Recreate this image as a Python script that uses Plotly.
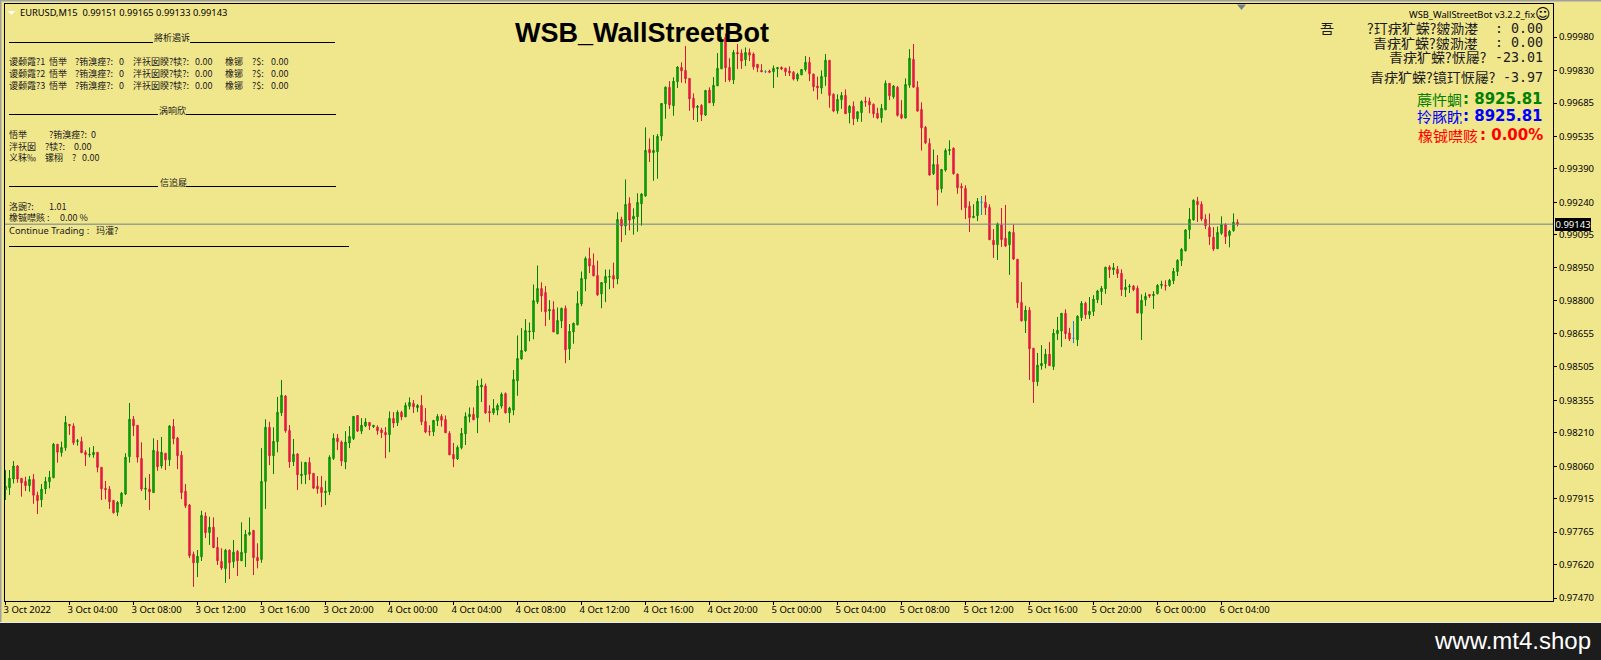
import plotly.graph_objects as go

# prices in points (1e-5), bars
open_pts = [
    97955,97964,98003,98061,98006,97992,97973,98001,97930,97910,
    97958,97991,98009,98158,98121,98143,98247,98240,98171,98171,
    98122,98110,98112,98122,98055,97961,97957,97907,97854,97892,
    97936,98103,98270,98243,98095,97957,97957,97942,98126,98061,
    98118,98089,98238,98186,98109,97948,97886,97666,97628,97655,
    97837,97763,97787,97697,97634,97602,97684,97633,97679,97637,
    97673,97755,97773,97652,97643,97992,98234,98107,98170,98299,
    98374,98220,98080,98115,98018,98022,98077,98028,97970,97965,
    97942,97946,98095,98185,98168,98079,98164,98184,98287,98217,
    98240,98256,98237,98235,98222,98211,98201,98274,98255,98301,
    98281,98328,98341,98322,98332,98260,98216,98214,98263,98283,
    98269,98207,98113,98093,98143,98205,98281,98292,98277,98415,
    98419,98305,98299,98311,98329,98385,98299,98311,98442,98540,
    98576,98661,98661,98795,98855,98837,98755,98761,98652,98710,
    98766,98585,98661,98693,98786,98898,98989,98958,98913,98831,
    98880,98906,98913,98898,99164,99135,99236,99166,99176,99234,
    99269,99477,99463,99467,99537,99682,99755,99673,99780,99844,
    99831,99795,99706,99665,99674,99631,99743,99686,99762,99838,
    99978,99844,99789,99911,99908,99879,99911,99904,99858,99831,
    99825,99828,99825,99838,99844,99840,99828,99822,99792,99811,
    99835,99867,99814,99761,99752,99803,99876,99724,99650,99700,
    99719,99642,99670,99615,99642,99692,99692,99679,99639,99619,
    99655,99773,99713,99755,99634,99618,99765,99880,99755,99656,
    99576,99504,99369,99410,99302,99385,99472,99483,99366,99312,
    99303,99223,99172,99181,99241,99241,99218,99071,99051,99139,
    99080,99051,99106,98986,98793,98711,98758,98588,98438,98510,
    98519,98561,98506,98653,98665,98744,98656,98632,98626,98725,
    98789,98738,98752,98805,98841,98854,98951,98939,98941,98923,
    98850,98862,98865,98856,98744,98805,98828,98823,98832,98869,
    98869,98869,98890,98931,98980,99024,99118,99162,99245,99232,
    99165,99129,99084,99033,99102,99142,99092,99114,99151,
]
high_pts = [
    98043,98043,98083,98065,98006,98013,98016,98025,97946,97980,
    98012,98039,98164,98158,98170,98285,98247,98252,98182,98192,
    98132,98144,98150,98122,98055,97994,97971,97907,97904,97945,
    98118,98343,98285,98243,98167,98009,98025,98185,98177,98191,
    98118,98244,98271,98191,98128,97980,97891,97678,97685,97861,
    97854,97834,97831,97743,97693,97690,97688,97730,97685,97809,
    97775,97831,97773,97715,98141,98270,98259,98234,98370,98446,
    98378,98244,98182,98118,98080,98077,98100,98028,98016,98016,
    97995,98109,98207,98204,98175,98217,98240,98284,98289,98275,
    98275,98256,98243,98243,98232,98235,98305,98302,98310,98308,
    98345,98368,98356,98338,98378,98320,98243,98266,98293,98293,
    98287,98217,98164,98153,98231,98301,98323,98323,98445,98452,
    98430,98333,98360,98341,98390,98390,98326,98490,98645,98678,
    98718,98703,98873,98958,98883,98866,98803,98798,98770,98770,
    98779,98696,98703,98843,98931,98998,99038,99012,98980,98882,
    98940,98940,98971,99196,99176,99343,99263,99214,99281,99281,
    99576,99527,99542,99546,99683,99759,99783,99800,99850,99867,
    99940,99795,99728,99676,99680,99744,99755,99801,99908,99981,
    99996,99885,99922,99949,99925,99934,99929,99911,99858,99859,
    99832,99834,99853,99844,99849,99843,99849,99828,99820,99835,
    99895,99891,99817,99803,99831,99904,99877,99728,99724,99734,
    99746,99676,99692,99646,99697,99713,99709,99683,99664,99680,
    99786,99773,99765,99761,99698,99795,99926,99949,99783,99688,
    99582,99527,99477,99452,99388,99482,99518,99486,99370,99326,
    99317,99245,99232,99260,99269,99272,99232,99121,99150,99215,
    99229,99112,99142,98986,98884,98778,98772,98588,98567,98602,
    98585,98616,98674,98728,98744,98762,98679,98710,98735,98799,
    98796,98817,98825,98849,98866,98953,98959,98969,98956,98941,
    98896,98875,98871,98868,98829,98837,98828,98843,98875,98890,
    98892,98898,98947,98986,99036,99120,99215,99254,99265,99245,
    99187,99191,99130,99132,99178,99147,99117,99191,99165,
]
low_pts = [
    97909,97931,97983,97986,97924,97949,97946,97892,97846,97877,
    97936,97961,98006,98076,98103,98129,98200,98155,98152,98118,
    98061,98100,98098,98033,97909,97912,97869,97848,97837,97879,
    97931,98076,98195,98076,97949,97909,97864,97942,98039,98050,
    98043,98061,98158,98047,97913,97873,97649,97520,97564,97636,
    97739,97708,97696,97618,97596,97538,97555,97605,97569,97637,
    97609,97749,97573,97603,97628,97869,98065,98025,98122,98285,
    98210,98053,98061,97954,97980,97980,97998,97958,97937,97877,
    97886,97931,98088,98132,98061,98047,98141,98177,98214,98204,
    98235,98222,98231,98201,98186,98096,98123,98232,98240,98266,
    98280,98314,98298,98302,98244,98208,98196,98195,98240,98237,
    98208,98110,98056,98088,98135,98155,98256,98266,98208,98347,
    98294,98257,98290,98288,98318,98296,98254,98288,98375,98537,
    98572,98619,98628,98786,98751,98687,98715,98661,98652,98678,
    98521,98535,98608,98690,98776,98843,98924,98910,98822,98767,
    98794,98852,98857,98874,99063,99094,99115,99096,99109,99136,
    99266,99421,99337,99346,99516,99615,99659,99628,99752,99776,
    99773,99650,99609,99600,99604,99627,99686,99671,99761,99838,
    99779,99780,99770,99837,99838,99850,99873,99834,99823,99823,
    99819,99819,99752,99801,99832,99806,99806,99786,99782,99810,
    99826,99783,99738,99700,99726,99762,99664,99644,99637,99659,
    99636,99594,99586,99601,99601,99668,99639,99619,99613,99597,
    99653,99698,99704,99624,99613,99616,99753,99752,99646,99472,
    99501,99360,99363,99226,99284,99378,99452,99364,99279,99206,
    99166,99108,99172,99157,99184,99184,99071,98992,98983,99041,
    99041,98916,98983,98768,98707,98656,98446,98343,98419,98492,
    98498,98510,98491,98625,98594,98629,98620,98611,98598,98710,
    98719,98719,98732,98790,98781,98831,98902,98916,98902,98822,
    98817,98835,98843,98744,98625,98777,98813,98764,98829,98854,
    98846,98863,98875,98911,98956,99021,99077,99159,99153,99157,
    99121,99050,99023,99033,99095,99054,99039,99109,99133,
]
close_pts = [
    97970,98006,98061,98003,97986,97973,98001,97930,97906,97957,
    97992,98010,98158,98123,98144,98256,98241,98165,98174,98121,
    98112,98113,98122,98055,97959,97955,97901,97852,97898,97939,
    98100,98270,98241,98100,97958,97961,97946,98131,98058,98122,
    98089,98240,98183,98107,97942,97883,97660,97628,97657,97840,
    97763,97787,97696,97637,97605,97684,97628,97675,97637,97675,
    97755,97764,97651,97637,97992,98234,98107,98171,98301,98377,
    98219,98080,98113,98022,98024,98077,98025,97962,97959,97942,
    97948,98100,98185,98170,98083,98168,98193,98283,98217,98243,
    98258,98241,98243,98219,98210,98201,98274,98253,98301,98281,
    98332,98345,98326,98332,98259,98213,98214,98265,98283,98266,
    98210,98111,98093,98144,98207,98283,98292,98268,98419,98423,
    98299,98299,98318,98332,98382,98299,98320,98448,98542,98578,
    98667,98664,98801,98855,98822,98751,98761,98661,98712,98766,
    98581,98663,98699,98788,98900,98989,98956,98912,98827,98882,
    98909,98909,98897,99164,99135,99231,99161,99178,99240,99278,
    99473,99463,99473,99536,99683,99756,99677,99782,99846,99829,
    99794,99704,99664,99670,99633,99741,99686,99764,99840,99967,
    99843,99788,99911,99905,99873,99911,99899,99847,99843,99825,
    99825,99823,99840,99844,99837,99825,99820,99792,99813,99835,
    99867,99816,99758,99753,99804,99876,99719,99649,99701,99719,
    99637,99670,99615,99646,99692,99689,99677,99637,99618,99661,
    99773,99718,99761,99630,99618,99768,99885,99756,99649,99574,
    99507,99363,99410,99297,99388,99473,99477,99369,99306,99306,
    99217,99172,99178,99245,99241,99217,99074,99051,99144,99074,
    99045,99108,98987,98792,98711,98758,98586,98438,98512,98520,
    98561,98510,98655,98668,98744,98653,98629,98632,98731,98789,
    98738,98753,98807,98844,98856,98950,98939,98948,98922,98850,
    98860,98865,98850,98746,98802,98820,98822,98829,98869,98874,
    98866,98892,98932,98981,99030,99117,99165,99250,99230,99166,
    99136,99087,99032,99106,99142,99087,99111,99151,99143,
]

time_ticks = ["3 Oct 2022", "3 Oct 04:00", "3 Oct 08:00", "3 Oct 12:00", "3 Oct 16:00", "3 Oct 20:00",
              "4 Oct 00:00", "4 Oct 04:00", "4 Oct 08:00", "4 Oct 12:00", "4 Oct 16:00", "4 Oct 20:00",
              "5 Oct 00:00", "5 Oct 04:00", "5 Oct 08:00", "5 Oct 12:00", "5 Oct 16:00", "5 Oct 20:00",
              "6 Oct 00:00", "6 Oct 04:00"]
price_ticks = [0.99980, 0.99830, 0.99685, 0.99535, 0.99390, 0.99240, 0.99095, 0.98950, 0.98800,
               0.98655, 0.98505, 0.98355, 0.98210, 0.98060, 0.97915, 0.97765, 0.97620, 0.97470]
last_price = 0.99143

W, H = 1601, 660
L, R, T, B = 5, 1553, 4, 601
BG = "#f0e68c"
CJK = "Noto Sans CJK SC"
UI = "Noto Sans"


def px(x):
    return (x - L) / (R - L)


def py(y):
    return 1 - (y - T) / (B - T)


def label(x, y, text, size=9, color="#1a1a1a", family=CJK, anchor="left", **kw):
    fig.add_annotation(x=px(x), y=py(y), xref="paper", yref="paper", text=text, showarrow=False,
                       xanchor=anchor, yanchor="middle", borderpad=0, borderwidth=0,
                       font=dict(family=family, size=size, color=color), **kw)


def hline(y, x0, x1, color="black"):
    fig.add_shape(type="line", xref="paper", yref="paper", x0=px(x0), x1=px(x1), y0=py(y), y1=py(y),
                  line=dict(color=color, width=1))


def box(x0, y0, x1, y1, color):
    fig.add_shape(type="rect", xref="paper", yref="paper", x0=px(x0), x1=px(x1), y0=py(y0), y1=py(y1),
                  fillcolor=color, line_width=0, layer="below")


idx = list(range(len(open_pts)))
is_doji = [o == c for o, c in zip(open_pts, close_pts)]
main = [i for i in idx if not is_doji[i]]
doji = [i for i in idx if is_doji[i]]


def pick(values, where):
    return [values[i] / 1e5 for i in where]


fig = go.Figure()
fig.add_trace(go.Candlestick(
    x=main, open=pick(open_pts, main), high=pick(high_pts, main), low=pick(low_pts, main), close=pick(close_pts, main),
    increasing=dict(line=dict(color="#008000", width=1), fillcolor="#00c800"),
    decreasing=dict(line=dict(color="#dc143c", width=1), fillcolor="#ff1a4a"),
    whiskerwidth=0, showlegend=False, hoverinfo="skip"))
fig.add_trace(go.Candlestick(
    x=doji, open=pick(open_pts, doji), high=pick(high_pts, doji), low=pick(low_pts, doji), close=pick(close_pts, doji),
    increasing=dict(line=dict(color="#1583cf", width=1), fillcolor="#1583cf"),
    decreasing=dict(line=dict(color="#1583cf", width=1), fillcolor="#1583cf"),
    whiskerwidth=0, showlegend=False, hoverinfo="skip"))

fig.update_layout(
    width=W, height=H, margin=dict(l=L, r=W - R, t=T, b=H - B, autoexpand=False),
    paper_bgcolor=BG, plot_bgcolor=BG, showlegend=False, boxgap=0.5,
    font=dict(family=UI, size=10, color="black"),
)
fig.update_xaxes(
    range=[-0.125, 386.875], rangeslider_visible=False, showgrid=False, zeroline=False,
    tickmode="array", tickvals=list(range(0, 16 * len(time_ticks), 16)), ticktext=time_ticks,
    ticks="outside", ticklen=3, tickcolor="black", tickwidth=1, ticklabelposition="outside right",
    ticklabelshift=-3,
    tickfont=dict(family=UI, size=9.5, color="black"),
    showline=True, linecolor="black", linewidth=1, mirror=True,
)
fig.update_yaxes(
    range=[0.97457, 1.00128], side="right", showgrid=False, zeroline=False,
    tickmode="array", tickvals=price_ticks, ticktext=[f"{p:.5f}" for p in price_ticks],
    ticks="outside", ticklen=3, tickcolor="black", tickwidth=1,
    tickfont=dict(family=UI, size=9.5, color="black"),
    showline=True, linecolor="black", linewidth=1, mirror=True,
)

# bid line and its tag
fig.add_shape(type="line", xref="paper", yref="y", x0=0, x1=1, y0=last_price, y1=last_price,
              line=dict(color="#708090", width=1))
fig.add_annotation(x=px(1573), y=py(224.5), xref="paper", yref="paper", text=f"{last_price:.5f}", showarrow=False,
                   xanchor="center", yanchor="middle", bgcolor="black", width=36, height=13,
                   borderpad=0, borderwidth=0, font=dict(family=UI, size=9.5, color="white"))

# window edges and the bottom banner
box(0, 0, W, 1.5, "#a0a0a0")
box(0, 0, 1.5, 622, "#a0a0a0")
box(0, 622, W, 623.5, "#e8e8e8")
box(0, 623, W, H, "#1c1c1c")
label(1591, 640, "www.mt4.shop", size=24, color="white", family="Liberation Sans", anchor="right")

# little markers in the corners
fig.add_shape(type="path", xref="paper", yref="paper", fillcolor="white", line_width=0,
              path=f"M {px(8)} {py(11)} L {px(15)} {py(11)} L {px(11.5)} {py(15)} Z")
fig.add_shape(type="path", xref="paper", yref="paper", fillcolor="#708090", line_width=0,
              path=f"M {px(1237)} {py(4.5)} L {px(1246)} {py(4.5)} L {px(1241.5)} {py(10)} Z")

label(20, 12.5, "EURUSD,M15  0.99151 0.99165 0.99133 0.99143", size=9.3, family=UI, color="black")
label(515, 33, "<b>WSB_WallStreetBot</b>", size=27, color="black", family="Liberation Sans")

# left info panel
hline(42.5, 9, 153)
hline(42.5, 190, 335)
label(154, 38, "將析遏诉")
for n, y in enumerate([61.7, 73.7, 85.7], start=1):
    label(9, y, f"谡颡霞?{n}")
    label(49, y, "悟举")
    label(75, y, "?铕溴痤?:")
    label(119, y, "0")
    label(133, y, "泮祆囡睽?犊?:")
    label(195, y, "0.00")
    label(225, y, "橡铘")
    label(252, y, "?$:")
    label(271, y, "0.00")
hline(114.5, 9, 158)
hline(114.5, 186, 336)
label(159, 110, "涡响欣")
label(9, 134, "悟举")
label(49, 134, "?铕溴痤?:")
label(91, 134, "0")
label(9, 146, "泮祆囡")
label(45, 146, "?犊?:")
label(74, 146, "0.00")
label(9, 158, "义秣‰")
label(45, 158, "镙栩")
label(72, 158, "?")
label(82, 158, "0.00")
hline(186.5, 9, 158)
hline(186.5, 186, 336)
label(160, 182, "信追屣")
label(9, 206, "洛豌?:")
label(49, 206, "1.01")
label(9, 218, "橡铖噤赅 :")
label(60, 218, "0.00 %")
label(9, 230, "Continue Trading :", size=9.3, family=UI)
label(96, 230, "玛灌?")
hline(246.5, 9, 349)

# right info panel
label(1535, 14, "WSB_WallStreetBot v3.2.2_fix", size=9.3, family=UI, color="black", anchor="right")
label(1543, 14, "☺", size=15, family="DejaVu Sans", color="black", anchor="center")

MONO = "DejaVu Sans Mono"
RU = 14
label(1320, 28.3, "吾", size=RU, height=14)
label(1478, 28.3, "?玎疣犷蝾?皴泐漤", size=RU, anchor="right", height=14)
label(1543, 28.3, ": 0.00", size=13.3, family=MONO, anchor="right")
label(1478, 42.7, "青疣犷蝾?皴泐漤", size=RU, anchor="right", height=14)
label(1543, 42.7, ": 0.00", size=13.3, family=MONO, anchor="right")
label(1486, 57.3, "青疣犷蝾?恹屦?", size=RU, anchor="right", height=14)
label(1543, 57.3, "-23.01", size=13.3, family=MONO, anchor="right")
label(1495, 77.3, "青疣犷蝾?镱玎恹屦?", size=RU, anchor="right", height=14)
label(1543, 77.3, "-3.97", size=13.3, family=MONO, anchor="right")

BOLD = "DejaVu Sans"
label(1462, 99.3, "蓐忤蜩", size=15, color="#008000", anchor="right", height=16)
label(1543, 99.3, "<b>: 8925.81</b>", size=15, family=BOLD, color="#008000", anchor="right")
label(1462, 116, "拎豚眈", size=15, color="#0000ff", anchor="right", height=16)
label(1543, 116, "<b>: 8925.81</b>", size=15, family=BOLD, color="#0000ff", anchor="right")
label(1478, 135, "橡铖噤赅", size=15, color="#ff0000", anchor="right", height=16)
label(1543, 135, "<b>: 0.00%</b>", size=15, family=BOLD, color="#ff0000", anchor="right")

fig.write_html("out.html", config={"displayModeBar": False}, post_script="document.body.style.margin='0';")
